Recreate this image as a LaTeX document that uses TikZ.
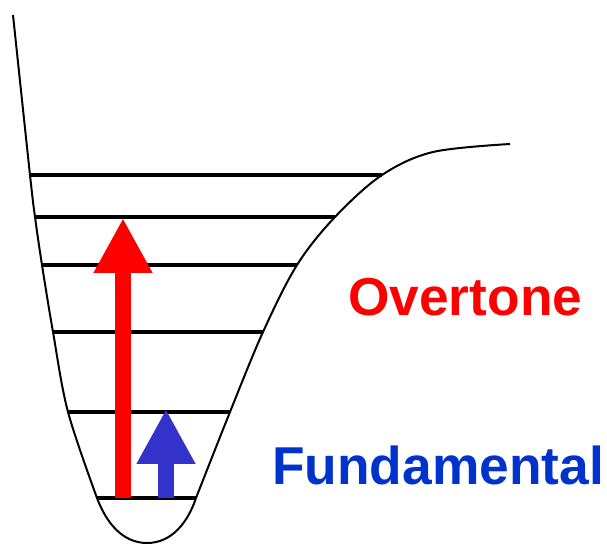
\documentclass[tikz,border=0pt]{standalone}
\usepackage{fontspec}
\setmainfont{Liberation Sans}
\usetikzlibrary{arrows.meta}
\definecolor{overred}{RGB}{255,0,0}
\definecolor{fundblue}{RGB}{0,51,204}
\definecolor{arrowblue}{RGB}{51,51,204}
\tikzset{
  level/.style={black, line width=2.8pt},
  well/.style={black, line width=1.7pt, line join=round},
  transition/.style={line width=4.8mm, -{Triangle[length=16.5mm, width=16.5mm]}},
  label/.style={inner sep=0pt, anchor=base west, font=\bfseries\fontsize{45.5}{50}\selectfont}
}
\begin{document}
\begin{tikzpicture}[x=0.3mm, y=-0.3mm]
\useasboundingbox (0,0) rectangle (607,547);

% vibrational levels
\foreach \y/\a/\b in {175/30/382, 217/35/335, 265/42/297, 332/53/263, 412/68/230, 498/97/196}
  \draw[level] (\a,\y) -- (\b,\y);

% potential well
\draw[well] plot[smooth, tension=0.55] coordinates {(13,15) (30,175) (35,217) (42,265) (53,332) (68,412) (97,498)}
  .. controls (106,522) and (122,543) .. (147,543)
  .. controls (172,543) and (188,522) .. (196,498)
  plot[smooth, tension=0.55] coordinates {(196,498) (230,412) (263,332) (297,265) (335,217) (382,175) (433,152) (510,144)};

\draw[transition, overred] (123,498) -- (123,218);
\draw[transition, arrowblue] (166,498) -- (166,409);

\node[label, text=overred] (overtone) at (348,316) {Overtone};
\node[label, text=fundblue] (fundamental) at (272,485) {Fundamental};
\end{tikzpicture}
\end{document}
